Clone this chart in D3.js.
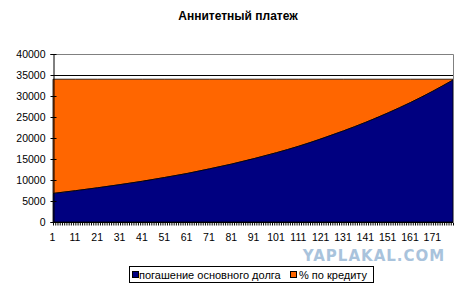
<!DOCTYPE html>
<html><head><meta charset="utf-8">
<script src="https://cdn.jsdelivr.net/npm/d3@7"></script>
<style>body{margin:0;background:#fff}svg{display:block}</style>
</head><body>
<script>
const title = "Аннитетный платеж";
const seriesNames = ["погашение основного долга", "% по кредиту"];
const months = [1, 11, 21, 31, 41, 51, 61, 71, 81, 91, 101, 111, 121, 131, 141, 151, 161, 171, 180];
const principal = [6800, 7450, 8150, 8900, 9700, 10600, 11550, 12650, 13800, 15100, 16500, 18050, 19800, 21700, 23750, 26000, 28450, 31150, 33800];
const payment = [34000, 34000, 34000, 34000, 34000, 34000, 34000, 34000, 34000, 34000, 34000, 34000, 34000, 34000, 34000, 34000, 34000, 34000, 34000];
const interest = payment.map((p, i) => p - principal[i]);
const xTickLabels = [1, 11, 21, 31, 41, 51, 61, 71, 81, 91, 101, 111, 121, 131, 141, 151, 161, 171];
const yTicks = [0, 5000, 10000, 15000, 20000, 25000, 30000, 35000, 40000];
const colors = ["#000080", "#FF6600"];

const W = 473, H = 286;
const FONT = "Arial, 'Liberation Sans', sans-serif";
const svg = d3.select("body").append("svg").attr("width", W).attr("height", H);
const L = 53, R = 453, T = 54, B = 222;
const x = d3.scaleLinear().domain([1, 180]).range([L, R]);
const y = d3.scaleLinear().domain([0, 40000]).range([B, T]);

// gridlines
svg.append("g").selectAll("line").data(yTicks.slice(1, -1)).join("line")
  .attr("x1", L).attr("x2", R).attr("y1", d => y(d) + 0.5).attr("y2", d => y(d) + 0.5)
  .attr("stroke", "#000").attr("stroke-width", 1);

const data = months.map((m, i) => ({m, p: principal[i], t: principal[i] + interest[i]}));
const areaTop = d3.area().x(d => x(d.m)).y0(d => y(d.p)).y1(d => y(d.t)).curve(d3.curveMonotoneX);
const areaBot = d3.area().x(d => x(d.m)).y0(y(0)).y1(d => y(d.p)).curve(d3.curveMonotoneX);
svg.append("path").datum(data).attr("d", areaTop).attr("fill", colors[1]).attr("stroke", "#000").attr("stroke-width", 0.8);
svg.append("path").datum(data).attr("d", areaBot).attr("fill", colors[0]).attr("stroke", "#000").attr("stroke-width", 0.8);

// plot border (top/right gray)
svg.append("path").attr("d", `M${L},${T+0.5}H${R+0.5}V${B}`).attr("fill", "none").attr("stroke", "#808080");

// y axis (ticks cross the axis)
const yAxis = d3.axisLeft(y).tickValues(yTicks).tickSize(3).tickFormat(d3.format("d"));
const gy = svg.append("g").attr("transform", `translate(${L + 0.5},0)`).call(yAxis);
gy.select(".domain").attr("stroke", "#000");
gy.selectAll(".tick line").attr("stroke", "#000").attr("x2", -3).attr("x1", 3);
gy.selectAll("text").attr("font-family", FONT).attr("font-size", 10.5).attr("fill", "#000").attr("x", -8);

// x axis: one tick per category
const allMonths = d3.range(1, 181);
const xAxis = d3.axisBottom(x).tickValues(allMonths).tickSize(3).tickFormat(d => xTickLabels.includes(d) ? d : "");
const gx = svg.append("g").attr("transform", `translate(0,${B + 0.5})`).call(xAxis);
gx.select(".domain").attr("stroke", "#000").attr("d", `M${L},0H${R}`);
gx.selectAll(".tick line").attr("stroke", "#000");
gx.selectAll("text").attr("font-family", FONT).attr("font-size", 10.5).attr("fill", "#000").attr("y", 11).attr("dx", -1);

// title
svg.append("text").attr("x", 238).attr("y", 20).attr("text-anchor", "middle")
  .attr("font-family", FONT).attr("font-size", 12).attr("font-weight", "bold").text(title);

// watermark
svg.append("text").attr("x", 374).attr("y", 261).attr("text-anchor", "middle")
  .attr("font-family", "'DejaVu Sans', Arial, sans-serif").attr("font-size", 15).attr("font-weight", "bold")
  .attr("fill", "#a9c3dc").attr("letter-spacing", 1).text("YAPLAKAL.COM");

// legend
svg.append("rect").attr("x", 129.5).attr("y", 266.5).attr("width", 244).attr("height", 16).attr("fill", "#fff").attr("stroke", "#000");
const lg = svg.append("g").attr("font-family", FONT).attr("font-size", 11);
const legItems = [{x: 132, tx: 137, name: seriesNames[0], c: colors[0]}, {x: 290, tx: 297, name: seriesNames[1], c: colors[1]}];
legItems.forEach(it => {
  lg.append("rect").attr("x", it.x + 0.5).attr("y", 271.5).attr("width", 6).attr("height", 6).attr("fill", it.c).attr("stroke", "#000");
  lg.append("text").attr("x", it.tx + 2).attr("y", 278.5).text(it.name);
});
</script>
</body></html>
